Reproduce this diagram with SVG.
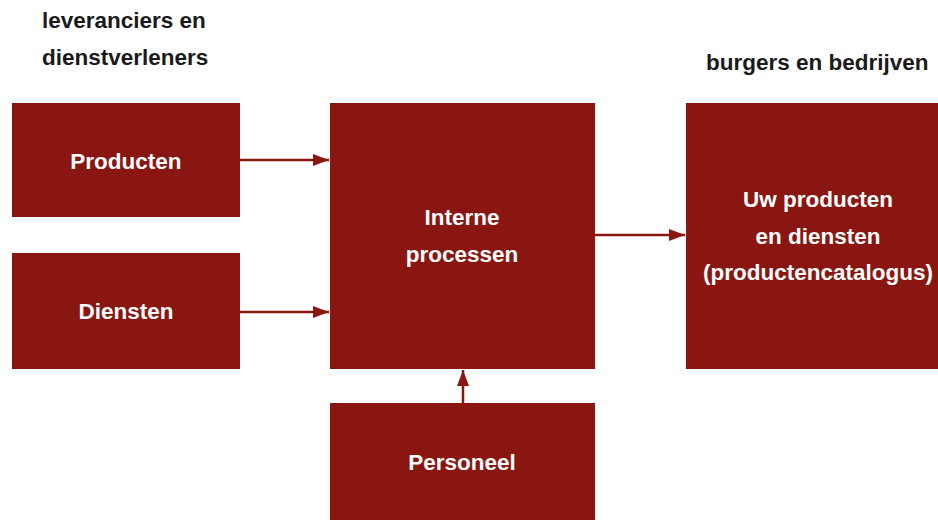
<svg xmlns="http://www.w3.org/2000/svg" width="938" height="520" viewBox="0 0 938 520">
<defs>
<style>
.box{fill:#8a1611;}
.lbl{font-family:"Liberation Sans",Arial,sans-serif;font-weight:bold;font-size:22.5px;fill:#ffffff;text-anchor:middle;}
.hdr{font-family:"Liberation Sans",Arial,sans-serif;font-weight:bold;font-size:22.5px;fill:#1a1a1a;}
.con{stroke:#8a1611;stroke-width:2.5;fill:none;marker-end:url(#ah);}
</style>
<marker id="ah" viewBox="0 0 16 12" refX="16" refY="6" markerWidth="16" markerHeight="12" markerUnits="userSpaceOnUse" orient="auto">
<path d="M0,0 L16,6 L0,12 z" fill="#8a1611"/>
</marker>
</defs>
<rect width="938" height="520" fill="#ffffff"/>
<text class="hdr" x="42" y="28">leveranciers en</text>
<text class="hdr" x="42" y="65">dienstverleners</text>
<text class="hdr" x="706" y="70">burgers en bedrijven</text>
<g id="producten"><rect class="box" x="12" y="103" width="228" height="114"/><text class="lbl" x="126" y="169">Producten</text></g>
<g id="diensten"><rect class="box" x="12" y="253" width="228" height="116"/><text class="lbl" x="126" y="319">Diensten</text></g>
<g id="interne"><rect class="box" x="330" y="103" width="265" height="266"/><text class="lbl" x="462" y="225">Interne</text><text class="lbl" x="462" y="262">processen</text></g>
<g id="uw"><rect class="box" x="686" y="103" width="252" height="266"/><text class="lbl" x="818" y="207">Uw producten</text><text class="lbl" x="818" y="244">en diensten</text><text class="lbl" x="818" y="280">(productencatalogus)</text></g>
<g id="personeel"><rect class="box" x="330" y="403" width="265" height="117"/><text class="lbl" x="462" y="470">Personeel</text></g>
<g id="connectors">
<line class="con" x1="240" y1="160" x2="329" y2="160"/>
<line class="con" x1="240" y1="312" x2="329" y2="312"/>
<line class="con" x1="595" y1="235" x2="685" y2="235"/>
<line class="con" x1="463" y1="403" x2="463" y2="370"/>
</g>
</svg>
